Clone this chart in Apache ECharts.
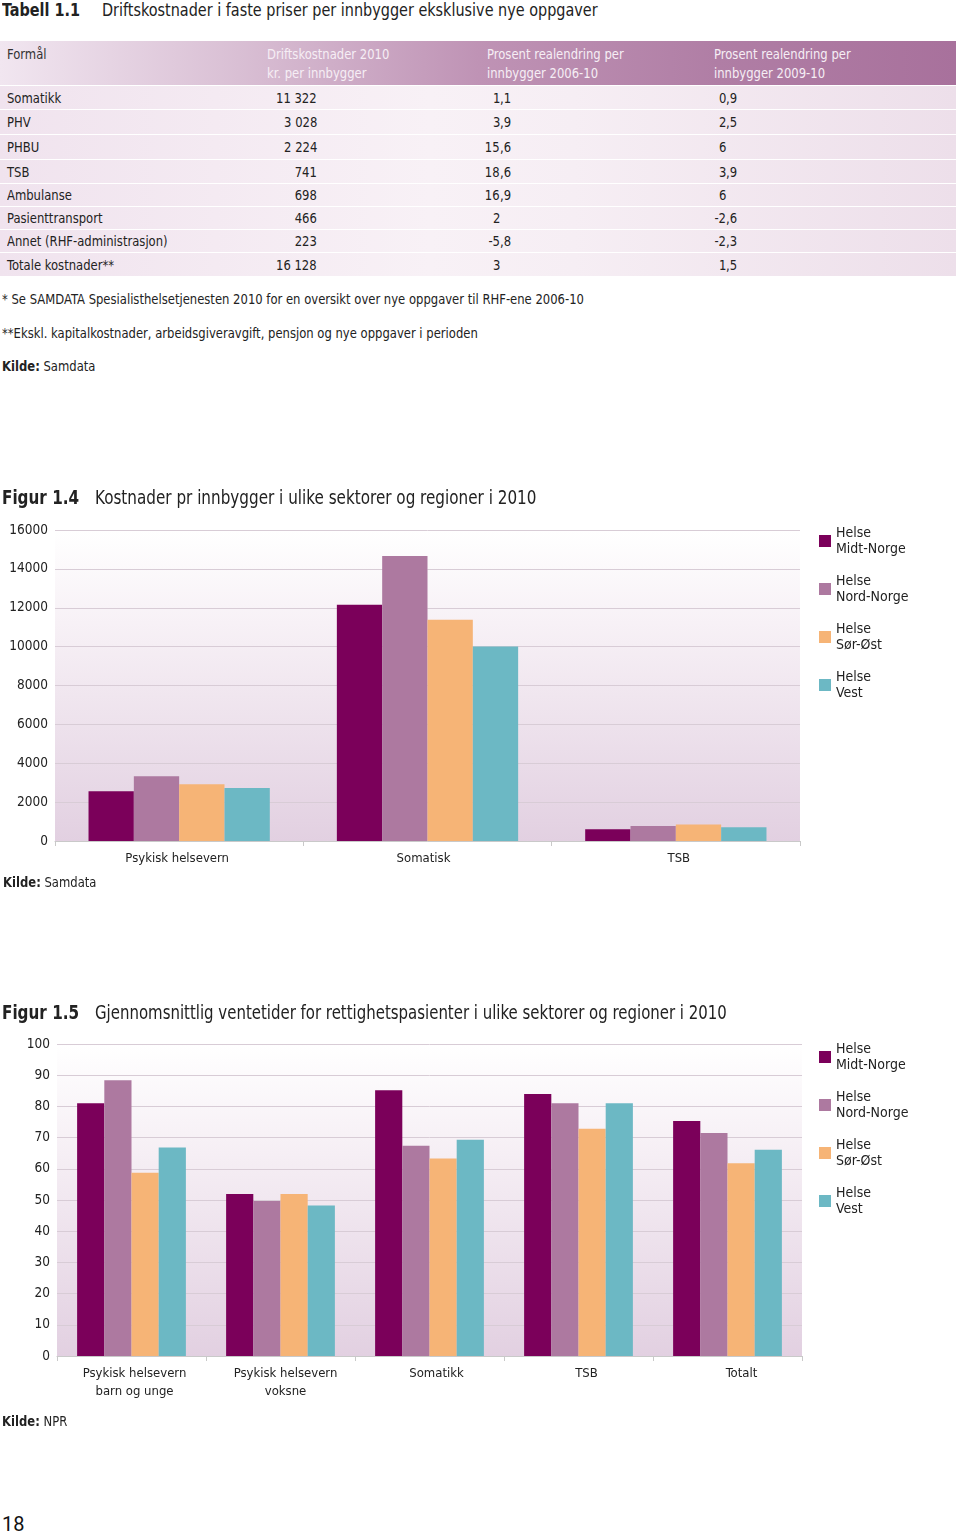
<!DOCTYPE html>
<html>
<head>
<meta charset="utf-8">
<script src="https://cdn.jsdelivr.net/npm/echarts@6/dist/echarts.min.js"></script>
<style>
  html,body{margin:0;padding:0;background:#fff;}
  body{width:960px;height:1534px;position:relative;overflow:hidden;
       font-family:"Liberation Sans Narrow","DejaVu Sans Condensed","Open Sans",sans-serif;color:#222;}
  .abs{position:absolute;white-space:nowrap;}
  .sx{transform:scaleX(0.89);transform-origin:left center;}
  .sxr{transform:scaleX(0.89);transform-origin:right center;}
  .ttl{font-size:18px;line-height:20px;}
  .b{font-weight:bold;}
  .cell{font-size:14.5px;line-height:18px;}
  .hdr{font-size:14.5px;line-height:19px;color:#f6eef5;}
  .note{font-size:14.5px;line-height:18px;}
  #chart4,#chart5{position:absolute;left:0;width:960px;}
</style>
</head>
<body>
<div id="page"></div>
<div id="chart4" style="top:480px;height:420px;"></div>
<div id="chart5" style="top:995px;height:445px;"></div>
<script>
// ---------- data ----------
const tableTitle = 'Driftskostnader i faste priser per innbygger eksklusive nye oppgaver';
const tableHeaders = ['Formål', 'Driftskostnader 2010\nkr. per innbygger', 'Prosent realendring per\ninnbygger 2006-10', 'Prosent realendring per\ninnbygger 2009-10'];
const tableRows = ['Somatikk', 'PHV', 'PHBU', 'TSB', 'Ambulanse', 'Pasienttransport', 'Annet (RHF-administrasjon)', 'Totale kostnader**'];
const cost2010 = ['11 322', '3 028', '2 224', '741', '698', '466', '223', '16 128'];
const change0610 = ['1,1', '3,9', '15,6', '18,6', '16,9', '2', '-5,8', '3'];
const change0910 = ['0,9', '2,5', '6', '3,9', '6', '-2,6', '-2,3', '1,5'];

const regions = ['Helse Midt-Norge', 'Helse Nord-Norge', 'Helse Sør-Øst', 'Helse Vest'];
const regionColors = ['#7b005a', '#ad79a0', '#f6b476', '#6cb8c4'];

const fig4Categories = ['Psykisk helsevern', 'Somatisk', 'TSB'];
const fig4Midt = [2560, 12160, 600];
const fig4Nord = [3330, 14660, 770];
const fig4Sor  = [2920, 11380, 850];
const fig4Vest = [2730, 10010, 710];

const fig5Categories = ['Psykisk helsevern\nbarn og unge', 'Psykisk helsevern\nvoksne', 'Somatikk', 'TSB', 'Totalt'];
const fig5Midt = [81.0, 51.9, 85.2, 84.0, 75.3];
const fig5Nord = [88.4, 49.7, 67.4, 81.0, 71.5];
const fig5Sor  = [58.7, 51.9, 63.3, 72.8, 61.8];
const fig5Vest = [66.8, 48.2, 69.3, 81.0, 66.1];

// ---------- static page (table and texts) ----------
const page = document.getElementById('page');
function add(html, style, cls) {
  const d = document.createElement('div');
  d.className = 'abs ' + (cls || '');
  d.style.cssText = style;
  d.innerHTML = html;
  page.appendChild(d);
  return d;
}
add('<span class="b">Tabell 1.1</span>', 'left:2px;top:0px;', 'ttl sx');
add(tableTitle, 'left:102px;top:0px;', 'ttl sx');

// header band
add('', 'left:0;top:41px;width:956px;height:44px;background:linear-gradient(to right,#f1e6f0 0%,#d9bfd4 25%,#bf93b5 50%,#b07ea5 75%,#a8719c 100%);');
const hdrX = [7, 267, 487, 714];
tableHeaders.forEach((h, i) => {
  add(h.replace('\n', '<br>'), 'left:' + hdrX[i] + 'px;top:45px;' + (i === 0 ? 'color:#333;' : ''), 'hdr sx');
});
// rows
const rowTops = [86, 110, 135, 160, 184, 207, 230, 253];
const rowBottoms = [109, 134, 159, 183, 206, 229, 252, 276];
tableRows.forEach((r, i) => {
  const t = rowTops[i], h = rowBottoms[i] - t;
  add('', 'left:0;top:' + t + 'px;width:956px;height:' + h + 'px;background:linear-gradient(to right,#f0e3ee 0%,#f8f1f6 45%,#f6eef4 60%,#eddfea 100%);');
  const cy = t + h / 2 - 9;
  add(r, 'left:7px;top:' + cy + 'px;', 'cell sx');
  add(cost2010[i], 'right:' + (960 - 317) + 'px;top:' + cy + 'px;', 'cell sxr');
  [[change0610[i], 500], [change0910[i], 726]].forEach(([v, x]) => {
    const parts = v.split(',');
    add(parts[0], 'right:' + (960 - x) + 'px;top:' + cy + 'px;', 'cell sxr');
    if (parts.length > 1) add(',' + parts[1], 'left:' + x + 'px;top:' + cy + 'px;', 'cell sx');
  });
});
add('* Se SAMDATA Spesialisthelsetjenesten 2010 for en oversikt over nye oppgaver til RHF-ene 2006-10', 'left:2px;top:290px;', 'note sx');
add('**Ekskl. kapitalkostnader, arbeidsgiveravgift, pensjon og nye oppgaver i perioden', 'left:2px;top:324px;', 'note sx');
add('<span class="b">Kilde:</span> Samdata', 'left:2px;top:357px;', 'note sx');

add('<span class="b">Figur 1.4</span>', 'left:2px;top:486px;font-size:19px;line-height:22px;z-index:5;', 'sx');
add('Kostnader pr innbygger i ulike sektorer og regioner i 2010', 'left:95px;top:486px;font-size:19px;line-height:22px;z-index:5;', 'sx');
add('<span class="b">Kilde:</span> Samdata', 'left:3px;top:873px;z-index:5;', 'note sx');

add('<span class="b">Figur 1.5</span>', 'left:2px;top:1001px;font-size:19px;line-height:22px;z-index:5;', 'sx');
add('Gjennomsnittlig ventetider for rettighetspasienter i ulike sektorer og regioner i 2010', 'left:95px;top:1001px;font-size:19px;line-height:22px;z-index:5;transform:scaleX(0.875);transform-origin:left center;');
add('<span class="b">Kilde:</span> NPR', 'left:2px;top:1412px;z-index:5;', 'note sx');
add('18', 'left:2px;top:1512px;font-size:20px;line-height:24px;font-family:Roboto,"Open Sans",sans-serif;color:#111;');

// ---------- charts ----------
const FONT = '"Liberation Sans Narrow","DejaVu Sans Condensed","Open Sans",sans-serif';
function gridBg() {
  return new echarts.graphic.LinearGradient(0, 0, 0, 1, [
    { offset: 0, color: '#ffffff' },
    { offset: 0.3, color: '#f7f1f6' },
    { offset: 1, color: '#e2d0e1' }
  ]);
}
function makeOption(cats, seriesData, yMax, yInterval, grid, legendTop, labelShift) {
  const rich = {};
  labelShift.forEach((s, i) => {
    rich['o' + i] = { fontSize: 13, color: '#222', lineHeight: 18, fontFamily: FONT, padding: [0, 0, 0, 2 * s] };
  });
  return {
    animation: false,
    textStyle: { fontFamily: FONT },
    grid: Object.assign({ show: true, borderWidth: 0, backgroundColor: gridBg(), containLabel: false }, grid),
    legend: {
      orient: 'vertical', left: 819, top: legendTop, padding: 0,
      itemWidth: 12, itemHeight: 12, itemGap: 0, icon: 'rect',
      data: regions,
      formatter: n => n.replace(' ', '\n'),
      textStyle: { fontSize: 14, color: '#222', lineHeight: 16, padding: [16, 0, 0, 0], fontFamily: FONT }
    },
    xAxis: {
      type: 'category', data: cats,
      axisLine: { lineStyle: { color: '#c9c9c9', width: 1 } },
      axisTick: { show: true, length: 5, lineStyle: { color: '#c9c9c9' } },
      axisLabel: {
        interval: 0, fontSize: 13, color: '#222', margin: 9, lineHeight: 18, fontFamily: FONT,
        formatter: (v, idx) => v.split('\n').map(l => '{o' + idx + '|' + l + '}').join('\n'),
        rich: rich
      }
    },
    yAxis: {
      type: 'value', min: 0, max: yMax, interval: yInterval,
      axisLine: { show: false }, axisTick: { show: false },
      splitLine: { lineStyle: { color: '#d8ccd6', width: 1 } },
      axisLabel: { fontSize: 13.5, color: '#222', margin: 7, fontFamily: FONT, formatter: v => String(v) }
    },
    series: seriesData.map((d, i) => ({
      name: regions[i], type: 'bar', data: d,
      barGap: '0%', barCategoryGap: '27%',
      itemStyle: { color: regionColors[i] }
    }))
  };
}
const c4 = echarts.init(document.getElementById('chart4'), null, { renderer: 'canvas' });
c4.setOption(makeOption(fig4Categories, [fig4Midt, fig4Nord, fig4Sor, fig4Vest], 16000, 2000,
  { left: 55, right: 160, top: 50, bottom: 59 }, 37, [-2, -4, 3]));
const c5 = echarts.init(document.getElementById('chart5'), null, { renderer: 'canvas' });
c5.setOption(makeOption(fig5Categories, [fig5Midt, fig5Nord, fig5Sor, fig5Vest], 100, 10,
  { left: 57, right: 158, top: 49, bottom: 84 }, 38, [3, 5, 7, 8, 14]));
</script>
</body>
</html>
